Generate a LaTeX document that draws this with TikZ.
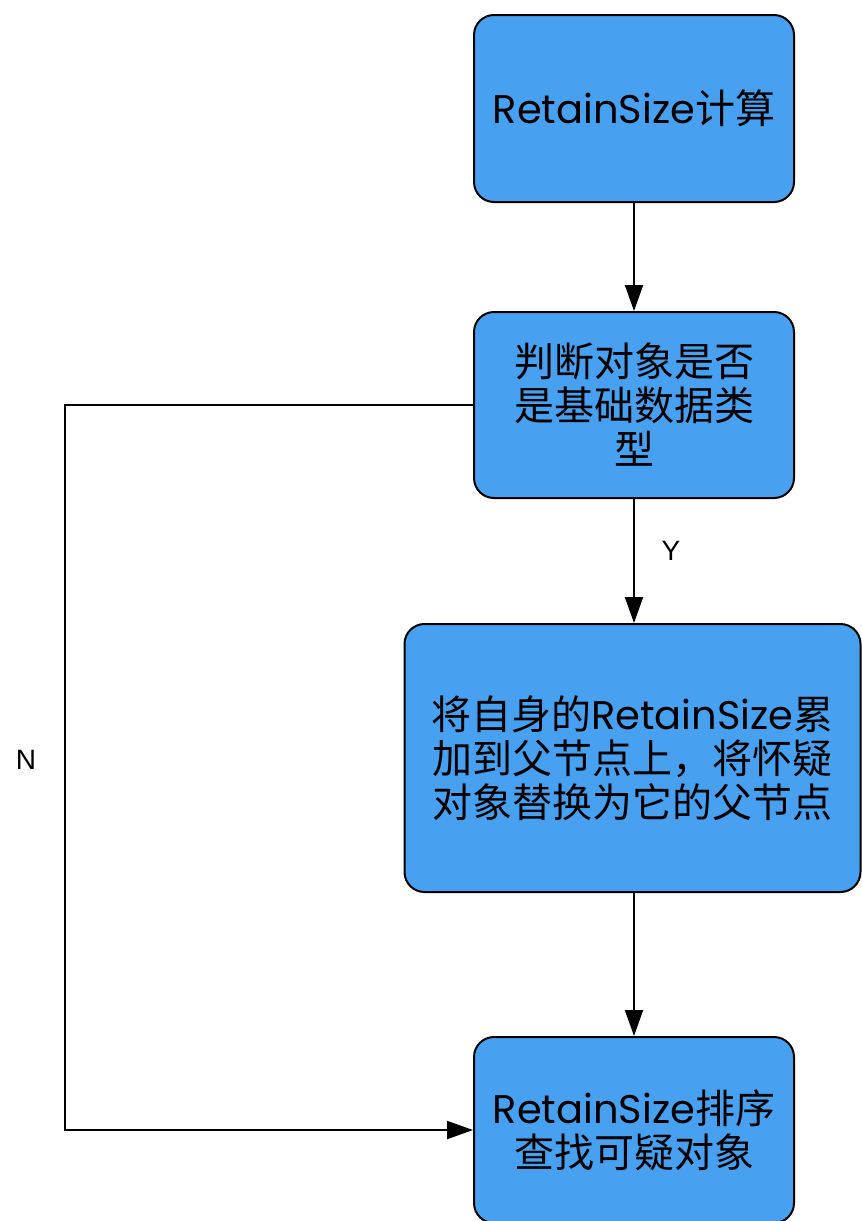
\documentclass[tikz,border=0pt]{standalone}
\usepackage{fontspec}
\setmainfont{Noto Sans CJK SC}
\newfontfamily\lat{Poppins}
\newfontfamily\arial{Liberation Sans}
\usetikzlibrary{arrows.meta}
\definecolor{boxblue}{HTML}{47A1F0}
\tikzset{
  flowbox/.style={draw=black, line width=2pt, fill=boxblue, rounded corners=20pt,
    align=center, inner sep=0pt, font=\fontsize{40}{44}\selectfont},
  flowarrow/.style={draw=black, line width=2pt, -{Triangle[length=26pt,width=18pt]}},
  flowlabel/.style={font=\arial\fontsize{28}{30}\selectfont, inner sep=0pt}
}
\newcommand{\RS}{{\lat RetainSize}}
\begin{document}
\begin{tikzpicture}[x=1pt,y=-1pt]
\useasboundingbox (0,0) rectangle (862,1221);
\node[flowbox, minimum width=320pt, minimum height=187pt] (b1) at (634,108.5) {\RS 计算};
\node[flowbox, minimum width=320pt, minimum height=186pt] (b2) at (634,405) {判断对象是否\\是基础数据类\\型};
\node[flowbox, minimum width=456pt, minimum height=268pt] (b3) at (632.5,758) {将自身的\RS 累\\加到父节点上，将怀疑\\对象替换为它的父节点};
\node[flowbox, minimum width=320pt, minimum height=186pt] (b4) at (634,1130) {\RS 排序\\查找可疑对象};
\coordinate (c1) at (65,405);
\coordinate (c2) at (65,1130);
\draw[flowarrow] (b1) -- (b2);
\draw[flowarrow] (b2.south) -- (b2.south |- b3.north);
\draw[flowarrow] (b4.north |- b3.south) -- (b4.north);
\draw[flowarrow] (b2.west) -- (c1) -- (c2) -- (b4.west);
\node[flowlabel] (ly) at (671,551) {Y};
\node[flowlabel] (ln) at (26,760) {N};
\end{tikzpicture}
\end{document}
